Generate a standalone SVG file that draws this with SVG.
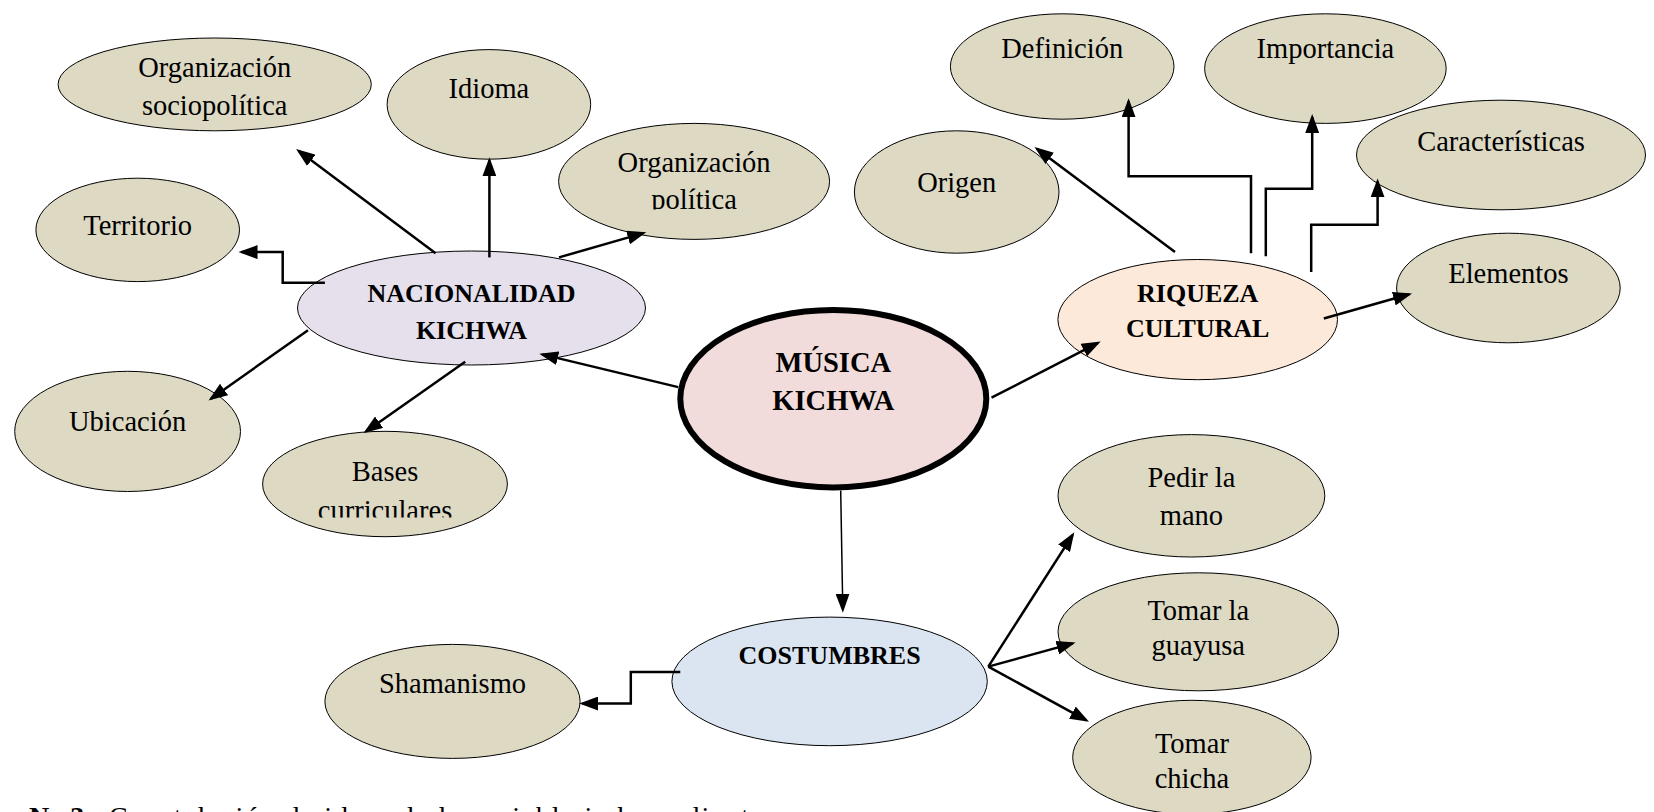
<svg xmlns="http://www.w3.org/2000/svg" width="1654" height="812" viewBox="0 0 1654 812">
<style>
.leaf{fill:#ddd9c3;stroke:#000;stroke-width:1}
.t{font-family:"Liberation Serif","Times New Roman",serif;font-size:28.5px;fill:#000;text-anchor:middle}
.b{font-family:"Liberation Serif","Times New Roman",serif;font-size:26px;font-weight:bold;fill:#000;text-anchor:middle}
.bm{font-size:28.5px}
.c{fill:none;stroke:#000;stroke-width:2.5}
.thin{stroke-width:1.5}
</style>
<defs>
<marker id="ah" markerUnits="userSpaceOnUse" markerWidth="20" markerHeight="14" refX="16" refY="7" orient="auto">
<path d="M0,0 L19,7 L0,14 z" fill="#000"/>
</marker>
<clipPath id="clipPol"><rect x="550" y="120" width="300" height="89.5"/></clipPath>
<clipPath id="clipBas"><rect x="260" y="430" width="250" height="87.5"/></clipPath>
</defs>
<rect width="1654" height="812" fill="#fff"/>

<g id="n-orgsocio"><ellipse class="leaf" cx="214.7" cy="84.4" rx="156.6" ry="46.4"/><text class="t" x="214.7" y="77">Organización</text><text class="t" x="214.7" y="115">sociopolítica</text></g>
<g id="n-idioma"><ellipse class="leaf" cx="488.9" cy="104.4" rx="101.8" ry="54.8"/><text class="t" x="488.9" y="98">Idioma</text></g>
<g id="n-orgpol"><ellipse class="leaf" cx="694.1" cy="181.4" rx="135.5" ry="58"/><g clip-path="url(#clipPol)"><text class="t" x="694.1" y="172">Organización</text><text class="t" x="694.1" y="209">política</text></g></g>
<g id="n-territorio"><ellipse class="leaf" cx="137.7" cy="229.9" rx="101.8" ry="51.7"/><text class="t" x="137.7" y="235">Territorio</text></g>
<g id="n-nacionalidad"><ellipse cx="471.5" cy="308" rx="174" ry="57" fill="#e5e0ec" stroke="#000" stroke-width="1"/><text class="b" x="471.5" y="302">NACIONALIDAD</text><text class="b" x="471.5" y="339">KICHWA</text></g>
<g id="n-ubicacion"><ellipse class="leaf" cx="127.6" cy="431.4" rx="112.9" ry="60.1"/><text class="t" x="127.6" y="431">Ubicación</text></g>
<g id="n-bases"><ellipse class="leaf" cx="385" cy="484" rx="122.4" ry="52.7"/><g clip-path="url(#clipBas)"><text class="t" x="385" y="481">Bases</text><text class="t" x="385" y="520">curriculares</text></g></g>
<g id="n-musica"><ellipse cx="833.3" cy="398.7" rx="153" ry="88.7" fill="#f2dcdb" stroke="#000" stroke-width="6"/><text class="b bm" x="833.3" y="372">MÚSICA</text><text class="b bm" x="833.3" y="410">KICHWA</text></g>
<g id="n-origen"><ellipse class="leaf" cx="956.7" cy="192" rx="102.3" ry="61.2"/><text class="t" x="956.7" y="192">Origen</text></g>
<g id="n-definicion"><ellipse class="leaf" cx="1062.2" cy="66.5" rx="111.8" ry="52.7"/><text class="t" x="1062.2" y="58">Definición</text></g>
<g id="n-importancia"><ellipse class="leaf" cx="1325.4" cy="68.6" rx="120.8" ry="54.8"/><text class="t" x="1325.4" y="58">Importancia</text></g>
<g id="n-caracteristicas"><ellipse class="leaf" cx="1501" cy="155" rx="144.5" ry="54.8"/><text class="t" x="1501" y="151">Características</text></g>
<g id="n-riqueza"><ellipse cx="1197.7" cy="319.6" rx="139.8" ry="60.1" fill="#fde9d9" stroke="#000" stroke-width="1"/><text class="b" x="1197.7" y="302">RIQUEZA</text><text class="b" x="1197.7" y="337">CULTURAL</text></g>
<g id="n-elementos"><ellipse class="leaf" cx="1508.4" cy="288" rx="111.8" ry="54.8"/><text class="t" x="1508.4" y="283">Elementos</text></g>
<g id="n-pedir"><ellipse class="leaf" cx="1191.4" cy="495.8" rx="133.4" ry="61.2"/><text class="t" x="1191.4" y="487">Pedir la</text><text class="t" x="1191.4" y="525">mano</text></g>
<g id="n-guayusa"><ellipse class="leaf" cx="1198.3" cy="631.8" rx="140.3" ry="59"/><text class="t" x="1198.3" y="620">Tomar la</text><text class="t" x="1198.3" y="655">guayusa</text></g>
<g id="n-chicha"><ellipse class="leaf" cx="1191.9" cy="757.3" rx="119.2" ry="57"/><text class="t" x="1191.9" y="753">Tomar</text><text class="t" x="1191.9" y="788">chicha</text></g>
<g id="n-costumbres"><ellipse cx="829.6" cy="681.4" rx="157.7" ry="64.3" fill="#dbe5f1" stroke="#000" stroke-width="1"/><text class="b" x="829.6" y="664">COSTUMBRES</text></g>
<g id="n-shamanismo"><ellipse class="leaf" cx="452.5" cy="701.4" rx="127.6" ry="57"/><text class="t" x="452.5" y="693">Shamanismo</text></g>

<g id="connectors">
<path class="c" marker-end="url(#ah)" d="M678.2,387.1 L542.2,354.4"/>
<path class="c" marker-end="url(#ah)" d="M435.6,253.2 L298.5,150.8"/>
<path class="c" marker-end="url(#ah)" d="M489.4,257.4 L489.4,160.3"/>
<path class="c" marker-end="url(#ah)" d="M559,257.4 L643.4,233.1"/>
<path class="c" marker-end="url(#ah)" d="M324.9,282.7 L282.7,282.7 L282.7,252.1 L241.5,252.1"/>
<path class="c" marker-end="url(#ah)" d="M308,330.2 L211,398.7"/>
<path class="c" marker-end="url(#ah)" d="M465.2,361.8 L366,431.4"/>
<path class="c" marker-end="url(#ah)" d="M991.5,397.7 L1098,342.8"/>
<path class="c" marker-end="url(#ah)" d="M1175,252.1 L1036.9,148.7"/>
<path class="c" marker-end="url(#ah)" d="M1251,253.2 L1251,176.2 L1128.6,176.2 L1128.6,101.3"/>
<path class="c" marker-end="url(#ah)" d="M1265.8,256.3 L1265.8,188.8 L1312.2,188.8 L1312.2,117.1"/>
<path class="c" marker-end="url(#ah)" d="M1311.2,272.1 L1311.2,224.7 L1377.6,224.7 L1377.6,181.4"/>
<path class="c" marker-end="url(#ah)" d="M1323.8,318.5 L1409.2,294.3"/>
<path class="c thin" marker-end="url(#ah)" d="M840.7,490.5 L842.8,609.7"/>
<path class="c" marker-end="url(#ah)" d="M680.3,671.9 L630.8,671.9 L630.8,703.5 L582.3,703.5"/>
<path class="c" marker-end="url(#ah)" d="M988.3,666.6 L1072.7,534.8"/>
<path class="c" marker-end="url(#ah)" d="M988.3,666.6 L1072.7,643.4"/>
<path class="c" marker-end="url(#ah)" d="M988.3,666.6 L1086.4,720.4"/>
</g>

<g id="caption">
<text x="29" y="826" font-family="Liberation Serif, serif" font-size="28" font-weight="bold" fill="#000">No 3</text>
<text x="109" y="826" font-family="Liberation Serif, serif" font-size="28" fill="#000" textLength="654" lengthAdjust="spacing">Constelación de ideas de la variable independiente</text>
</g>
</svg>
